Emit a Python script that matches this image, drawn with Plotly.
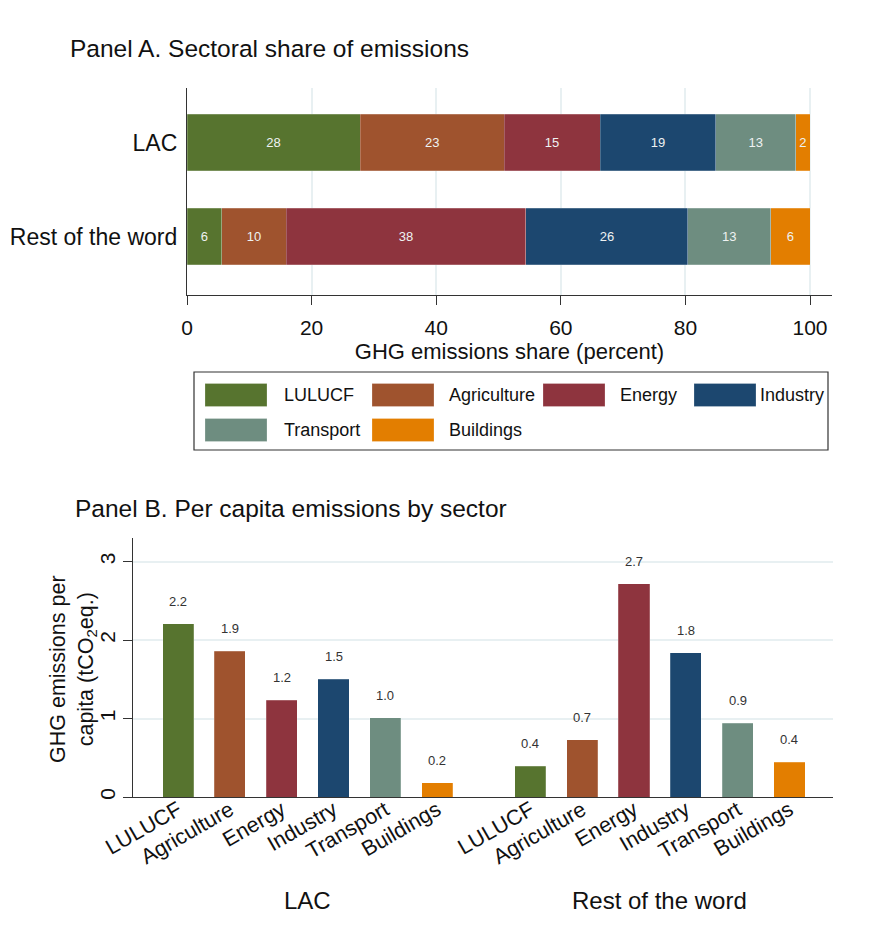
import plotly.graph_objects as go

# ---------------- data ----------------
sectors = ["LULUCF", "Agriculture", "Energy", "Industry", "Transport", "Buildings"]
colors = ["#57742f", "#9f532e", "#8e343e", "#1c476f", "#6e8d80", "#e37e00"]
regions = ["LAC", "Rest of the word"]

share_lac = [27.8, 23.1, 15.4, 18.6, 12.8, 2.3]
share_row = [5.6, 10.3, 38.5, 26.0, 13.3, 6.3]

pc_lac = [2.21, 1.86, 1.23, 1.50, 1.01, 0.18]
pc_row = [0.39, 0.73, 2.72, 1.84, 0.94, 0.44]

share_ticks = [0, 20, 40, 60, 80, 100]
pc_ticks = [0, 1, 2, 3]

W, H = 875, 951
FONT = "Liberation Sans, Arial, sans-serif"


def px(x):
    return x / W


def py(y):
    return 1 - y / H


fig = go.Figure()

# ---------------- Panel A ----------------
for s, c, a, b in zip(sectors, colors, share_lac, share_row):
    fig.add_trace(go.Bar(
        x=[a, b], y=regions, orientation="h", name=s,
        marker=dict(color=c, line=dict(color="rgba(255,255,255,0.35)", width=0.6)),
        width=0.6,
        text=[f"{a:.0f}", f"{b:.0f}"], textposition="inside",
        insidetextanchor="middle",
        textfont=dict(color="#eef2f2", size=13, family=FONT),
        xaxis="x", yaxis="y", showlegend=False,
    ))

# ---------------- Panel B ----------------
group_offset = 6.8
pos_lac = [i for i in range(len(sectors))]
pos_row = [i + group_offset for i in range(len(sectors))]

for i, (s, c) in enumerate(zip(sectors, colors)):
    fig.add_trace(go.Bar(
        x=[pos_lac[i], pos_row[i]], y=[pc_lac[i], pc_row[i]], name=s,
        marker=dict(color=c, line=dict(color="rgba(255,255,255,0.35)", width=0.6)),
        width=0.6, xaxis="x2", yaxis="y2", showlegend=False,
    ))

annotations = []
for xs, vs in ((pos_lac, pc_lac), (pos_row, pc_row)):
    for xv, v in zip(xs, vs):
        annotations.append(dict(
            x=xv, y=v, xref="x2", yref="y2", text=f"{v:.1f}",
            showarrow=False, yanchor="bottom", yshift=13,
            font=dict(size=13, color="#333333", family=FONT),
        ))

# titles
annotations.append(dict(x=px(68), y=py(48), xref="paper", yref="paper",
                        text="Panel A. Sectoral share of emissions", showarrow=False,
                        xanchor="left", yanchor="middle",
                        font=dict(size=24.5, color="#111111", family=FONT)))
annotations.append(dict(x=px(73), y=py(508), xref="paper", yref="paper",
                        text="Panel B. Per capita emissions by sector", showarrow=False,
                        xanchor="left", yanchor="middle",
                        font=dict(size=24.5, color="#111111", family=FONT)))
# Panel B y title
annotations.append(dict(x=px(73), y=py(669), xref="paper", yref="paper",
                        text="GHG emissions per<br>capita (tCO<sub>2</sub>eq.)",
                        showarrow=False, textangle=-90, xanchor="center", yanchor="middle",
                        font=dict(size=21.5, color="#111111", family=FONT)))
# group labels
for label, xs in zip(regions, (pos_lac, pos_row)):
    annotations.append(dict(x=sum(xs) / len(xs), y=py(900), xref="x2", yref="paper",
                            text=label, showarrow=False, xanchor="center", yanchor="middle",
                            font=dict(size=24, color="#111111", family=FONT)))

# manual legend
shapes = [dict(type="rect", xref="paper", yref="paper",
               x0=px(194), x1=px(828), y0=py(372), y1=py(450),
               line=dict(color="#333333", width=1.2), fillcolor="rgba(0,0,0,0)")]
leg_cols_rect = [205, 372, 543, 694]
leg_cols_text = [282, 447, 618, 758]
leg_rows = [395, 430]
for k, (s, c) in enumerate(zip(sectors, colors)):
    r, col = divmod(k, 4)
    yc = leg_rows[r]
    shapes.append(dict(type="rect", xref="paper", yref="paper",
                       x0=px(leg_cols_rect[col]), x1=px(leg_cols_rect[col] + 62),
                       y0=py(yc + 11.5), y1=py(yc - 11.5),
                       fillcolor=c, line=dict(color="rgba(255,255,255,0.4)", width=0.6)))
    annotations.append(dict(x=px(leg_cols_text[col]), y=py(yc), xref="paper", yref="paper",
                            text=s, showarrow=False, xanchor="left", yanchor="middle",
                            font=dict(size=18, color="#111111", family=FONT)))

grid = "#e8f0f2"
fig.update_layout(
    template="none",
    width=W, height=H,
    margin=dict(l=0, r=0, t=0, b=0, pad=0),
    paper_bgcolor="white", plot_bgcolor="white",
    barmode="stack",
    font=dict(family=FONT, color="#111111"),
    xaxis=dict(domain=[px(187), px(832)], range=[0, 100 * (832 - 187) / 623],
               tickvals=share_ticks, ticks="outside", ticklen=9, tickcolor="#333",
               showline=True, linecolor="#333", linewidth=1.2, automargin=False,
               showgrid=True, gridcolor=grid, gridwidth=1.5, zeroline=False,
               tickfont=dict(size=21), anchor="y", ticklabelstandoff=5,
               title=dict(text="GHG emissions share (percent)", font=dict(size=22), standoff=2)),
    yaxis=dict(domain=[py(295), py(88)], range=[1.62, -0.58], type="category",
               showline=True, linecolor="#333", linewidth=1.2, ticks="", automargin=False,
               showgrid=False, tickfont=dict(size=23), anchor="x", ticklabelstandoff=4),
    xaxis2=dict(domain=[px(133), px(833)], range=[-0.87, 12.64],
                tickvals=pos_lac + pos_row,
                ticktext=sectors + sectors, tickangle=-30, ticklabelstandoff=-9,
                ticks="", showline=True, linecolor="#333", linewidth=1.2, automargin=False,
                showgrid=False, zeroline=False, tickfont=dict(size=21.5), anchor="y2"),
    yaxis2=dict(domain=[py(797), py(538)], range=[0, 3.3],
                tickvals=pc_ticks, tickangle=-90, ticks="outside", ticklen=9, tickcolor="#333",
                showline=True, linecolor="#333", linewidth=1.2, automargin=False,
                showgrid=True, gridcolor=grid, gridwidth=1.5, zeroline=False,
                tickfont=dict(size=21), anchor="x2"),
    annotations=annotations,
    shapes=shapes,
)

fig.write_html("out.html", config={"displayModeBar": False},
               post_script="document.body.style.margin='0';document.body.style.overflow='hidden';")
